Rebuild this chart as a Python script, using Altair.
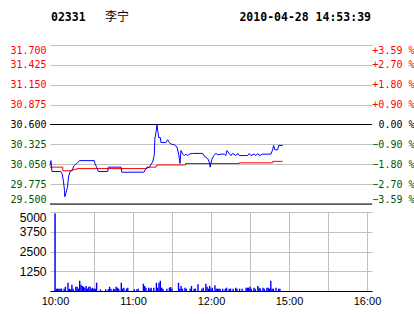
import altair as alt
import pandas as pd

STOCK_CODE = "02331"
STOCK_NAME = "李宁"
STAMP = "2010-04-28 14:53:39"
PREV_CLOSE = 30.6

PRICE_TICKS = [31.7, 31.425, 31.15, 30.875, 30.6, 30.325, 30.05, 29.775, 29.5]
VOL_TICKS = [1250, 2500, 3750, 5000]
TIME_TICKS = [0, 30, 60, 90, 120, 150, 180, 210, 240]
TIME_LABELS = ["10:00", "", "11:00", "", "12:00", "", "15:00", "", "16:00"]

# minutes since 10:00 on the compressed trading-time axis
price_min = [0, 0.7, 1.5, 8, 9, 10, 10.8, 11, 12, 13, 13.5, 14, 15, 16, 17, 18, 19, 20, 21, 22,
             33, 33.5, 35, 36, 43, 43.5, 53, 53.5, 70, 71.5, 74, 76.5, 77.7, 78.2, 79, 79.7,
             80.5, 81, 82.2, 82.7, 86.4, 87.7, 88.9, 90.2, 92.6, 94.6, 95.9, 96.9, 97.6, 98.9,
             100.1, 101.3, 102.6, 103.8, 106.3, 113.8, 115, 117.5, 118.7, 119.4, 120.5, 122,
             123.7, 125, 127.4, 129.9, 131.1, 131.9, 133.6, 134.9, 136.1, 138.6, 139.9, 141.1,
             147.3, 148.5, 149.8, 152.2, 153.5, 154.8, 156, 158.5, 164.7, 165.9, 166.7, 167.6,
             169.7, 170.4, 173.4]
price_val = [30.03, 30.10, 29.95, 29.95, 29.92, 29.82, 29.69, 29.60, 29.66, 29.73, 29.82, 29.89,
             29.95, 29.96, 29.99, 30.03, 30.05, 30.06, 30.08, 30.10,
             30.10, 30.06, 30.00, 29.95, 29.95, 30.01, 30.01, 29.94, 29.94, 29.99, 30.01, 30.08,
             30.17, 30.41, 30.49, 30.60,
             30.49, 30.42, 30.42, 30.35, 30.35, 30.39, 30.35, 30.33, 30.32, 30.29, 30.19, 30.06,
             30.24, 30.19,
             30.17, 30.19, 30.17, 30.19, 30.20, 30.20, 30.16, 30.13, 30.08, 30.01, 30.11, 30.17,
             30.20, 30.18, 30.19, 30.19, 30.17, 30.24, 30.20, 30.17, 30.20, 30.17, 30.20, 30.17,
             30.17, 30.20, 30.17, 30.19, 30.17, 30.20, 30.17, 30.19, 30.19, 30.25, 30.31, 30.25,
             30.25, 30.31, 30.31]

avg_min = [0, 9.5, 17, 20, 72, 79, 80, 101, 141, 166, 173.4]
avg_val = [30.01, 29.96, 29.98, 29.99, 30.01, 30.03, 30.04, 30.06, 30.07, 30.09, 30.09]

vol_min = [0, 1, 2, 3, 4, 5, 7, 8, 10, 11, 12, 13, 14, 16, 17, 18, 19, 20, 21, 22, 23, 24, 25,
           26, 27, 28, 29, 30, 31, 32, 35, 39, 41, 42, 43, 45, 46, 47, 48, 49, 51, 52, 53, 55,
           56, 61, 63, 64, 68, 69, 70, 72, 73, 74, 76, 78, 79, 80, 81, 82, 83, 86, 88, 89, 90,
           95, 96, 97, 98, 100, 101, 104, 105, 107, 108, 110, 113, 114, 116, 117, 118, 119, 120,
           121, 123, 124, 125, 126, 127, 129, 131, 132, 134, 135, 137, 139, 140, 142, 144, 147,
           148, 149, 150, 151, 153, 154, 156, 157, 158, 160, 161, 163, 164, 165, 166, 167, 168,
           170, 172, 173]
vol_val = [4900, 150, 150, 150, 150, 150, 150, 270, 525, 150, 110, 400, 150, 270, 270, 150, 650,
           400, 320, 270, 210, 320, 150, 270, 270, 150, 210, 150, 150, 525, 110, 110, 110, 270,
           150, 150, 110, 270, 210, 150, 525, 150, 210, 150, 210, 110, 110, 150, 460, 315, 210,
           210, 150, 210, 210, 525, 210, 525, 650, 210, 150, 150, 210, 250, 150, 525, 150, 315,
           150, 210, 150, 150, 315, 150, 150, 420, 150, 210, 460, 270, 150, 315, 150, 210, 360,
           150, 150, 150, 150, 150, 150, 210, 150, 150, 150, 210, 150, 150, 150, 210, 210, 210,
           270, 150, 210, 150, 315, 210, 150, 210, 150, 210, 210, 150, 650, 150, 150, 210, 150,
           150]

RED = "#ff0000"
GREEN = "#005500"
BLUE = "#0000ff"
GRID = "#c0c0c0"
W, H1, H2 = 322, 159, 79

price_df = pd.DataFrame({"m": price_min, "p": price_val})
avg_df = pd.DataFrame({"m": avg_min, "p": avg_val})
vol_df = pd.DataFrame({"m": vol_min, "v": vol_val})
ref_df = pd.DataFrame({"p": [PREV_CLOSE, PRICE_TICKS[-1]]})

xscale = alt.Scale(domain=[TIME_TICKS[0], TIME_TICKS[-1]], nice=False, zero=False)
yscale = alt.Scale(domain=[PRICE_TICKS[-1], PRICE_TICKS[0]], nice=False, zero=False)

color_cond = {
    "condition": [
        {"test": f"datum.value > {PREV_CLOSE + 0.001}", "value": RED},
        {"test": f"datum.value < {PREV_CLOSE - 0.001}", "value": GREEN},
    ],
    "value": "#000000",
}

time_expr = " : ".join(
    f"datum.value == {t} ? '{l}'" for t, l in zip(TIME_TICKS, TIME_LABELS)
) + " : ''"

x_grid_axis = alt.Axis(values=TIME_TICKS, grid=True, gridColor=GRID, gridOpacity=1,
                       labels=False, ticks=False, domain=False, title=None)

left_axis = alt.Axis(values=PRICE_TICKS, format=".3f", labelColor=color_cond,
                     labelFont="DejaVu Sans Mono", labelFontSize=10, labelPadding=4,
                     grid=True, gridColor=GRID, gridOpacity=1, domain=False, ticks=False,
                     title=None, labelFlush=True)

pct_expr = (f"(datum.value > {PREV_CLOSE + 0.001} ? '+' : '') + "
            f"format((datum.value - {PREV_CLOSE}) / {PREV_CLOSE} * 100, '.2f') + ' %'")
right_axis = alt.Axis(orient="right", values=PRICE_TICKS, labelExpr=pct_expr,
                      labelColor=color_cond, labelAlign="right", labelPadding=42,
                      labelFont="DejaVu Sans Mono", labelFontSize=10,
                      grid=False, domain=False, ticks=False, title=None, labelFlush=True)

rules = alt.Chart(ref_df).mark_rule(color="black", strokeWidth=1).encode(
    y=alt.Y("p:Q", scale=yscale, axis=None)
)
avg_line = alt.Chart(avg_df).mark_line(color=RED, strokeWidth=1, interpolate="step-after").encode(
    x=alt.X("m:Q", scale=xscale, axis=None),
    y=alt.Y("p:Q", scale=yscale, axis=right_axis),
)
price_line = alt.Chart(price_df).mark_line(color=BLUE, strokeWidth=1).encode(
    x=alt.X("m:Q", scale=xscale, axis=x_grid_axis),
    y=alt.Y("p:Q", scale=yscale, axis=left_axis),
)
t_code = alt.Chart(pd.DataFrame({"t": [STOCK_CODE]})).mark_text(
    align="left", baseline="middle", font="DejaVu Sans Mono", fontWeight="bold",
    fontSize=11.5, color="black"
).encode(text="t:N", x=alt.value(1), y=alt.value(-27))
t_name = alt.Chart(pd.DataFrame({"t": [STOCK_NAME]})).mark_text(
    align="left", baseline="middle", font="Noto Sans CJK SC", fontSize=12, color="black"
).encode(text="t:N", x=alt.value(55), y=alt.value(-28))
t_stamp = alt.Chart(pd.DataFrame({"t": [STAMP]})).mark_text(
    align="right", baseline="middle", font="DejaVu Sans Mono", fontWeight="bold",
    fontSize=11.5, color="black"
).encode(text="t:N", x=alt.value(321), y=alt.value(-27))

price_chart = alt.layer(rules, avg_line, price_line, t_code, t_name, t_stamp).resolve_axis(
    y="independent"
).properties(width=W, height=H1)

x_axis = alt.Axis(values=TIME_TICKS, labelExpr=time_expr, grid=True, gridColor=GRID,
                  gridOpacity=1, ticks=False, domain=True, domainColor="black",
                  labelFont="Liberation Sans", labelFontSize=11, labelPadding=4,
                  labelFlush=False, title=None, labelColor="black")
vol_axis = alt.Axis(values=VOL_TICKS, format="d", grid=True, gridColor=GRID, gridOpacity=1,
                    domain=False, ticks=False, labelFont="Liberation Sans",
                    labelFontSize=12, labelPadding=4, labelFlush=True, title=None,
                    labelColor="black")

vol_chart = alt.Chart(vol_df).mark_bar(color=BLUE, size=1.4).encode(
    x=alt.X("m:Q", scale=xscale, axis=x_axis),
    y=alt.Y("v:Q", scale=alt.Scale(domain=[0, 5000], nice=False), axis=vol_axis),
).properties(width=W, height=H2)

chart = alt.vconcat(price_chart, vol_chart, spacing=6).configure_view(
    strokeWidth=0
).properties(
    padding={"left": 9, "top": 11, "right": 0, "bottom": 0},
    background="white",
)

chart.save("out.html", embed_options={"renderer": "svg", "actions": False})
